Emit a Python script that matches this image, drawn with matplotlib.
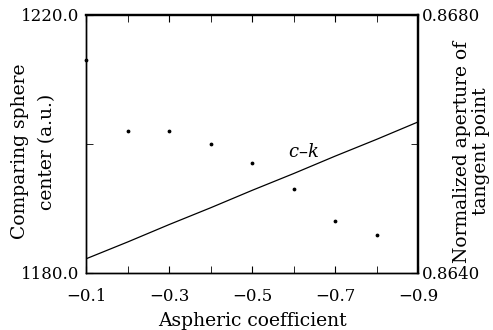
import numpy as np
import matplotlib
matplotlib.use("Agg")
import matplotlib.pyplot as plt

plt.rcParams['font.family'] = ['DejaVu Serif']
plt.rcParams['mathtext.fontset'] = 'dejavuserif'

# aspheric coefficient
k = [-0.1, -0.2, -0.3, -0.4, -0.5, -0.6, -0.7, -0.8, -0.9]
# comparing sphere center (a.u.), dots
sphere_k = [-0.1, -0.2, -0.3, -0.4, -0.5, -0.6, -0.7, -0.8]
sphere_center = [1213.0, 1202.0, 1202.0, 1200.0, 1197.1, 1193.0, 1188.0, 1185.9]
# normalized aperture of tangent point, line c-k
aperture = [0.86422, 0.86448, 0.86475, 0.86501, 0.86528, 0.86554, 0.86581, 0.86607, 0.86634]

fig, ax = plt.subplots(figsize=(4.93, 3.3), dpi=100)
fig.subplots_adjust(left=0.175, right=0.848, top=0.955, bottom=0.173)

ax.scatter(sphere_k, sphere_center, s=3, color='black', zorder=3, clip_on=False)
ax.set_xlim(-0.1, -0.9)
ax.set_ylim(1180, 1220)
ax.set_xticks([-0.1, -0.3, -0.5, -0.7, -0.9])
ax.set_xticks([-0.2, -0.4, -0.6, -0.8], minor=True)
ax.set_yticks([1180, 1220])
ax.set_yticks([1200], minor=True)
ax.set_yticklabels(['1180.0', '1220.0'])
ax.tick_params(axis='both', which='both', direction='in', labelsize=12, length=5,
               top=True)
ax.tick_params(axis='x', which='major', pad=11)
ax.tick_params(axis='y', which='major', pad=5)
ax.set_xlabel('Aspheric coefficient', fontsize=13.5)
ax.xaxis.set_label_coords(0.5, -0.152)
ax.set_ylabel('Comparing sphere\ncenter (a.u.)', fontsize=13.5, linespacing=1.7)
ax.yaxis.set_label_coords(-0.09, 0.47)
ax.text(-0.623, 1198.8, r'$c$–$k$', fontsize=13, ha='center', va='center')

ax2 = ax.twinx()
ax2.plot(k, aperture, color='black', lw=0.9)
ax2.set_ylim(0.8640, 0.8680)
ax2.set_yticks([0.8640, 0.8680])
ax2.set_yticks([0.8660], minor=True)
ax2.set_yticklabels(['0.8640', '0.8680'])
ax2.tick_params(axis='y', which='both', direction='in', labelsize=12, length=5, pad=3)
ax2.set_ylabel('Normalized aperture of\ntangent point', fontsize=13.5, linespacing=1.1)
ax2.yaxis.set_label_coords(1.105, 0.47)

for a in (ax, ax2):
    a.spines['left'].set_linewidth(1.0)
    a.spines['bottom'].set_linewidth(1.0)
    a.spines['top'].set_linewidth(1.6)
    a.spines['right'].set_linewidth(1.6)

fig.savefig('out.png', dpi=100)
